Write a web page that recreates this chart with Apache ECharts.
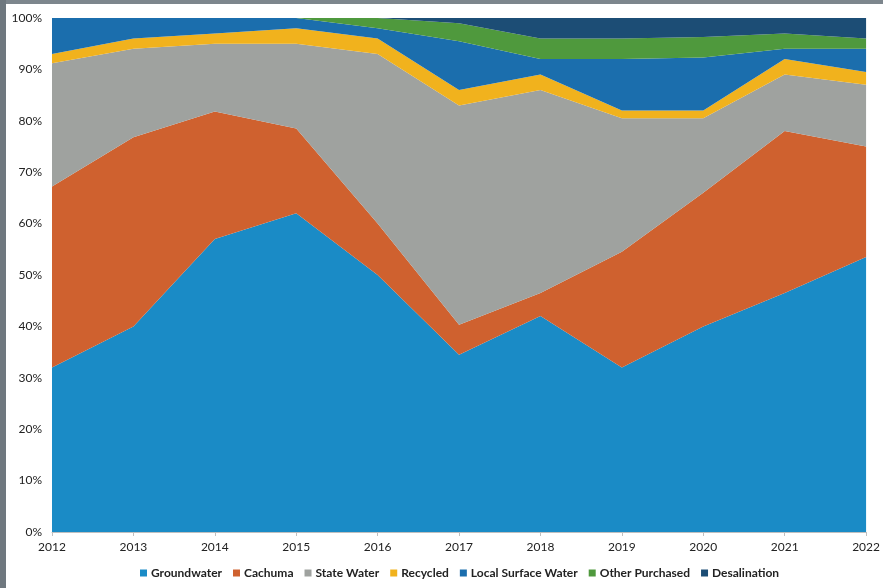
<!DOCTYPE html>
<html>
<head>
<meta charset="utf-8">
<script src="https://cdn.jsdelivr.net/npm/echarts@6/dist/echarts.min.js"></script>
<style>
  html, body { margin: 0; padding: 0; background: #fff; }
  #frame { position: relative; width: 883px; height: 588px; background: #fff; overflow: hidden; }
  #edgeTop { position: absolute; left: 0; top: 0; width: 883px; height: 4px; background: #7d868d; }
  #edgeLeft { position: absolute; left: 0; top: 0; width: 6px; height: 588px; background: #6f787f; }
  #chart { position: absolute; left: 0; top: 0; width: 883px; height: 588px; }
</style>
</head>
<body>
<div id="frame">
  <div id="chart"></div>
  <div id="edgeTop"></div>
  <div id="edgeLeft"></div>
</div>
<script>
// Water supply share by source, percent of total per year
const years = ['2012', '2013', '2014', '2015', '2016', '2017', '2018', '2019', '2020', '2021', '2022'];
const groundwater       = [32.0, 40.0, 57.0, 62.0, 50.0, 34.5, 42.0, 32.0, 40.0, 46.5, 53.5];
const cachuma           = [35.2, 36.8, 24.8, 16.5, 10.0,  5.8,  4.5, 22.5, 26.0, 31.5, 21.5];
const stateWater        = [24.0, 17.2, 13.2, 16.5, 33.0, 42.7, 39.5, 26.0, 14.5, 11.0, 12.0];
const recycled          = [ 1.8,  2.0,  2.0,  3.0,  3.0,  3.0,  3.0,  1.5,  1.5,  3.0,  2.5];
const localSurfaceWater = [ 7.0,  4.0,  3.0,  2.0,  2.0,  9.5,  3.0, 10.0, 10.3,  2.0,  4.5];
const otherPurchased    = [ 0.0,  0.0,  0.0,  0.0,  2.0,  3.5,  4.0,  4.0,  4.0,  3.0,  2.0];
const desalination      = [ 0.0,  0.0,  0.0,  0.0,  0.0,  1.0,  4.0,  4.0,  3.7,  3.0,  4.0];

const sources = [
  { name: 'Groundwater',         data: groundwater,       color: '#1a8bc6' },
  { name: 'Cachuma',             data: cachuma,           color: '#cf612f' },
  { name: 'State Water',         data: stateWater,        color: '#9fa29f' },
  { name: 'Recycled',            data: recycled,          color: '#f1b21d' },
  { name: 'Local Surface Water', data: localSurfaceWater, color: '#1b6ead' },
  { name: 'Other Purchased',     data: otherPurchased,    color: '#4f993d' },
  { name: 'Desalination',        data: desalination,      color: '#1c4d75' }
];

const font = 'Lato, "Liberation Sans", Arial, sans-serif';

const chart = echarts.init(document.getElementById('chart'), null, { renderer: 'canvas' });
chart.setOption({
  animation: false,
  backgroundColor: 'transparent',
  textStyle: { fontFamily: font },
  grid: { left: 52, right: 16, top: 18, bottom: 56, containLabel: false },
  legend: {
    data: sources.map(s => s.name),
    left: 135,
    top: 562,
    icon: 'rect',
    itemWidth: 7,
    itemHeight: 7,
    itemGap: 11,
    textStyle: { fontFamily: font, fontSize: 12, fontWeight: 'bold', color: '#222', padding: [0, 0, 0, -1] }
  },
  xAxis: {
    type: 'category',
    data: years,
    boundaryGap: false,
    axisLine: { show: true, lineStyle: { color: '#bfbfbf', width: 1 } },
    axisTick: { show: true, alignWithLabel: true, length: 4, lineStyle: { color: '#bfbfbf' } },
    axisLabel: { color: '#222', fontSize: 12, fontFamily: font, margin: 9 },
    splitLine: { show: false }
  },
  yAxis: {
    type: 'value',
    min: 0,
    max: 100,
    interval: 10,
    axisLine: { show: false },
    axisTick: { show: false },
    axisLabel: { formatter: '{value}%', color: '#222', fontSize: 12, fontFamily: font, margin: 10 },
    splitLine: { show: false }
  },
  series: sources.map(s => ({
    name: s.name,
    type: 'line',
    stack: 'supply',
    data: s.data,
    symbol: 'none',
    smooth: false,
    lineStyle: { width: 0 },
    areaStyle: { color: s.color, opacity: 1 },
    itemStyle: { color: s.color },
    emphasis: { disabled: true }
  }))
});
</script>
</body>
</html>
